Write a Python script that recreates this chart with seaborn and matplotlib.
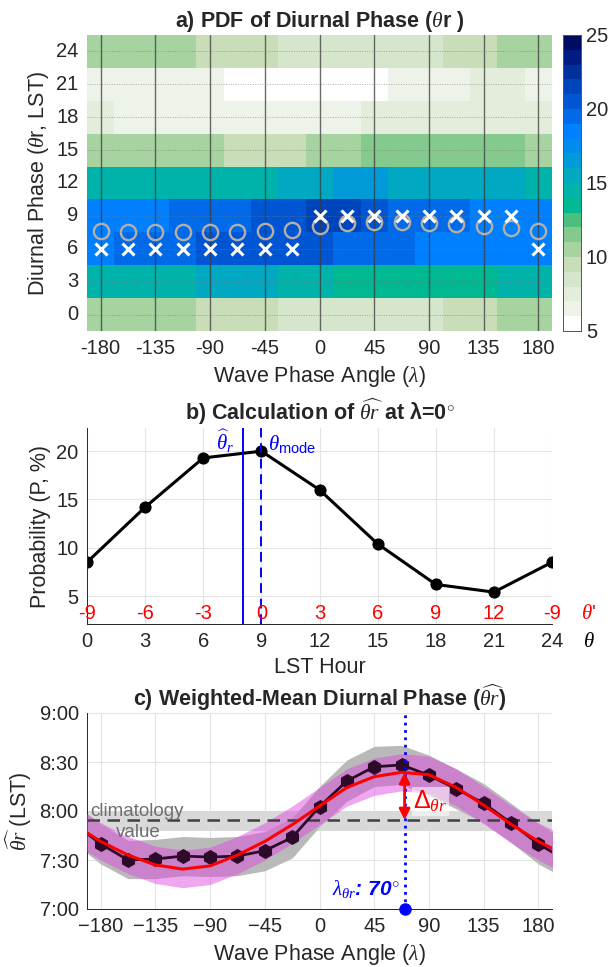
import numpy as np
import pandas as pd
import matplotlib
matplotlib.use('Agg')
import matplotlib.pyplot as plt
import matplotlib.transforms as mtransforms
from matplotlib.colors import ListedColormap
import seaborn as sns

# ---------------- DATA ----------------
# panel a: PDF of diurnal phase, rows = LST hour (top -> bottom), cols = wave phase
wave_phase = [-180, -157.5, -135, -112.5, -90, -67.5, -45, -22.5, 0,
              22.5, 45, 67.5, 90, 112.5, 135, 157.5, 180]
lst_hours = [24, 21, 18, 15, 12, 9, 6, 3, 0]
pdf_24 = [10.5, 10.5, 10.5, 10.5, 9.5, 9.5, 9.5, 8.5, 8.5, 8.5, 8.5, 8.5, 8.5, 9.5, 9.5, 10.5, 10.5]
pdf_21 = [6.5, 6.5, 6.5, 6.5, 6.5, 5.5, 5.5, 5.5, 5.5, 5.5, 5.5, 6.5, 6.5, 6.5, 7.5, 7.5, 6.5]
pdf_18 = [7.5, 6.5, 6.5, 6.5, 6.5, 6.5, 6.5, 6.5, 6.5, 6.5, 7.5, 7.5, 7.5, 7.5, 7.5, 7.5, 7.5]
pdf_15 = [10.5, 10.5, 10.5, 10.5, 10.5, 9.5, 9.5, 9.5, 10.5, 10.5, 11.5, 11.5, 11.5, 11.5, 11.5, 11.5, 10.5]
pdf_12 = [14.5, 14.5, 14.5, 14.5, 14.5, 14.5, 14.5, 15.5, 15.5, 16.5, 16.5, 15.5, 15.5, 15.5, 15.5, 15.5, 14.5]
pdf_09 = [18.5, 18.5, 18.5, 19.5, 19.5, 19.5, 20.5, 20.5, 21.5, 21.5, 20.5, 19.5, 19.5, 19.5, 18.5, 18.5, 18.5]
pdf_06 = [18.5, 19.5, 19.5, 19.5, 20.5, 20.5, 20.5, 20.5, 20.5, 19.5, 19.5, 19.5, 18.5, 18.5, 18.5, 18.5, 18.5]
pdf_03 = [14.5, 14.5, 14.5, 14.5, 15.5, 15.5, 15.5, 14.5, 14.5, 13.5, 13.5, 13.5, 13.5, 13.5, 13.5, 14.5, 14.5]
pdf_00 = [10.5, 10.5, 10.5, 10.5, 9.5, 9.5, 9.5, 8.5, 8.5, 8.5, 8.5, 8.5, 8.5, 9.5, 9.5, 10.5, 10.5]
mode_hour = [6, 6, 6, 6, 6, 6, 6, 6, 9, 9, 9, 9, 9, 9, 9, 9, 6]
phase_ticks = [-180, -135, -90, -45, 0, 45, 90, 135, 180]
cbar_ticks = [5, 10, 15, 20, 25]
pdf_colors = ['#ffffff', '#eef3ea', '#e4ecdc', '#d6e6cc', '#c9ddb8', '#a6d3a0',
              '#84c98e', '#4cbf80', '#00b892', '#00b3aa', '#00a8c2', '#009ad8',
              '#008cec', '#0080ff', '#006ae8', '#0056d2', '#0044bc', '#00309e',
              '#001c82', '#000c62']

# panel b: probability vs LST hour at lambda = 0
lst_b = [0, 3, 6, 9, 12, 15, 18, 21, 24]
prob_b = [8.5, 14.2, 19.3, 20.0, 16.0, 10.4, 6.2, 5.4, 8.5]
theta_prime = ['-9', '-6', '-3', '0', '3', '6', '9', '12', '-9']
prob_ticks = [5, 10, 15, 20]

# panel c: weighted-mean diurnal phase (hours) vs wave phase
theta_hat = [7.664, 7.50, 7.51, 7.54, 7.53, 7.54, 7.595, 7.73, 8.044,
             8.306, 8.451, 8.47, 8.365, 8.226, 8.078, 7.878, 7.664]
spread_lo = [7.46, 7.31, 7.31, 7.34, 7.33, 7.34, 7.39, 7.52, 7.84,
             8.10, 8.25, 8.27, 8.16, 8.02, 7.88, 7.68, 7.46]
spread_hi = [7.87, 7.70, 7.71, 7.74, 7.73, 7.74, 7.79, 7.93, 8.25,
             8.52, 8.66, 8.67, 8.57, 8.43, 8.28, 8.08, 7.87]
fit_c = [7.69, 7.55, 7.45, 7.407, 7.44, 7.55, 7.69, 7.86, 8.05,
         8.24, 8.35, 8.395, 8.37, 8.24, 8.06, 7.865, 7.69]
fit_lo = [7.50, 7.36, 7.26, 7.217, 7.25, 7.36, 7.50, 7.67, 7.86,
          8.05, 8.16, 8.205, 8.18, 8.05, 7.87, 7.675, 7.50]
fit_hi = [7.88, 7.74, 7.64, 7.60, 7.63, 7.74, 7.88, 8.05, 8.24,
          8.43, 8.54, 8.585, 8.56, 8.43, 8.25, 8.055, 7.88]
clim_value = 7.908
clim_lo, clim_hi = 7.80, 8.0
lam_peak = 70
hour_ticks = [7, 7.5, 8, 8.5, 9]
hour_labels = ['7:00', '7:30', '8:00', '8:30', '9:00']

# ---------------- STYLE ----------------
sns.set_theme(style='white')
plt.rcParams['font.family'] = ['Liberation Sans', 'DejaVu Sans']
plt.rcParams['mathtext.fontset'] = 'custom'
plt.rcParams['mathtext.rm'] = 'Liberation Sans'
plt.rcParams['mathtext.it'] = 'Liberation Serif:italic'
plt.rcParams['mathtext.bf'] = 'Liberation Sans:bold'
plt.rcParams['mathtext.sf'] = 'Liberation Sans'

TICK_FS = 14.5
LABEL_FS = 15.5
TITLE_FS = 15.5
INK = '#262626'

fig = plt.figure(figsize=(6.11, 9.67), dpi=100)
W, H = 611, 967
ax_a = fig.add_axes([87 / W, 1 - 331 / H, 465 / W, 296 / H])
cax = fig.add_axes([563 / W, 1 - 331 / H, 18 / W, 296 / H])
ax_b = fig.add_axes([87 / W, 1 - 624 / H, 465 / W, 196 / H])
ax_c = fig.add_axes([87 / W, 1 - 909 / H, 465 / W, 196 / H])

# ---------------- PANEL A ----------------
pdf = pd.DataFrame([pdf_24, pdf_21, pdf_18, pdf_15, pdf_12, pdf_09, pdf_06, pdf_03, pdf_00],
                   index=lst_hours, columns=wave_phase)
sns.heatmap(pdf, ax=ax_a, cmap=ListedColormap(pdf_colors), vmin=5, vmax=25,
            cbar_ax=cax, cbar_kws={'ticks': cbar_ticks})

step_x = wave_phase[1] - wave_phase[0]
step_y = lst_hours[0] - lst_hours[1]


def hx(lam):
    return (np.asarray(lam) - wave_phase[0]) / step_x + 0.5


def hy(hour):
    return (lst_hours[0] - np.asarray(hour)) / step_y + 0.5


ax_a.set_xticks(hx(phase_ticks))
ax_a.set_xticklabels(phase_ticks, rotation=0)
ax_a.set_yticks(hy(lst_hours))
ax_a.set_yticklabels(lst_hours, rotation=0)
for v in phase_ticks:
    ax_a.axvline(hx(v), color='#3a3a3a', lw=1.0, alpha=0.75)
for hr in lst_hours:
    ax_a.axhline(hy(hr), color='#7a7a7a', lw=0.7, ls=(0, (1, 1.5)), alpha=0.6)

ax_a.plot(hx(wave_phase), hy(theta_hat), 'o', mfc='none', mec='#b5afa8', ms=11, mew=1.7)
ax_a.plot(hx(wave_phase), hy(mode_hour), 'x', color='white', ms=9, mew=2.2)

ax_a.set_title('a) PDF of Diurnal Phase ($\\theta$r )', fontsize=TITLE_FS, fontweight='bold', pad=6)
ax_a.set_xlabel('Wave Phase Angle ($\\lambda$)', fontsize=LABEL_FS)
ax_a.set_ylabel('Diurnal Phase ($\\theta$r, LST)', fontsize=LABEL_FS)
ax_a.tick_params(labelsize=TICK_FS, length=0, pad=6)

cax.tick_params(labelsize=TICK_FS, direction='in', length=3, width=0.6, color=INK)
for s in cax.spines.values():
    s.set_visible(True)
    s.set_linewidth(0.6)
    s.set_color('#555555')

# ---------------- PANEL B ----------------
sns.lineplot(x=lst_b, y=prob_b, ax=ax_b, color='black', lw=2.2, marker='o', ms=8,
             mec='black', mfc='black')
ax_b.set_xlim(lst_b[0], lst_b[-1])
ax_b.set_ylim(2.1, 22.4)
ax_b.set_xticks(lst_b)
ax_b.set_yticks(prob_ticks)
ax_b.grid(True, color='#e4e4e4', lw=0.8)
ax_b.set_axisbelow(True)

theta_mode = lst_b[int(np.argmax(prob_b))]
theta_r0 = theta_hat[wave_phase.index(0)]
ax_b.axvline(theta_r0, color='blue', lw=1.4)
ax_b.axvline(theta_mode, color='blue', lw=1.4, ls=(0, (5, 3)))
ax_b.text(theta_r0 - 0.45, 21.0, '$\\widehat{\\theta}_r$', color='blue', fontsize=15,
          ha='right', va='center')
ax_b.text(theta_mode + 0.35, 20.7, '$\\theta_{\\mathrm{mode}}$', color='blue', fontsize=15,
          ha='left', va='center')

for xv, lab in zip(lst_b, theta_prime):
    ax_b.text(xv, 3.2, lab, color='red', fontsize=TICK_FS, ha='center', va='center')
ax_b.text(25.9, 3.2, "$\\theta$'", color='red', fontsize=15, ha='center', va='center')
trans_b = mtransforms.blended_transform_factory(ax_b.transData, ax_b.transAxes)
ax_b.text(25.9, -0.09, '$\\theta$', color='black', fontsize=15, ha='center', va='center',
          transform=trans_b)

ax_b.set_title('b) Calculation of $\\widehat{\\theta r}$ at \u03bb=0$^{\\circ}$',
               fontsize=TITLE_FS, fontweight='bold', pad=6)
ax_b.set_xlabel('LST Hour', fontsize=LABEL_FS)
ax_b.set_ylabel('Probability (P, %)', fontsize=LABEL_FS)

# ---------------- PANEL C ----------------
# periodic wrap so the curves run to the axis edges
lam_ext = np.concatenate([[wave_phase[-2] - 360], wave_phase, [wave_phase[1] + 360]])


def wrap(vals):
    return np.concatenate([[vals[-2]], vals, [vals[1]]])


ax_c.axhspan(clim_lo, clim_hi, color='#d9d9d9', lw=0, zorder=1)
ax_c.fill_between(lam_ext, wrap(spread_lo), wrap(spread_hi), color='#b9b9b9', lw=0, zorder=2)
ax_c.fill_between(lam_ext, wrap(fit_lo), wrap(fit_hi), color='#df46df', alpha=0.47, lw=0, zorder=3)
ax_c.axhline(clim_value, color='#404040', ls=(0, (5, 3)), lw=1.8, zorder=4)
sns.lineplot(x=lam_ext, y=wrap(theta_hat), ax=ax_c, color='#2e0a2a', lw=2, marker='h',
             ms=10, mec='#2e0a2a', mfc='#2e0a2a', zorder=5)
sns.lineplot(x=lam_ext, y=wrap(fit_c), ax=ax_c, color='red', lw=2.2, zorder=6)

ax_c.axvline(lam_peak, color='blue', ls=':', lw=2, zorder=7)
ax_c.plot(lam_peak, hour_ticks[0], 'o', color='blue', ms=8, clip_on=False, zorder=10)
ax_c.annotate('', xy=(lam_peak, max(fit_c)), xytext=(lam_peak, clim_value),
              arrowprops=dict(arrowstyle='<|-|>', color='red', lw=2, mutation_scale=16,
                              shrinkA=0, shrinkB=0), zorder=8)
ax_c.text(lam_peak + 7, 8.1, '$\\Delta_{\\theta r}$', color='red', fontsize=18,
          ha='left', va='center', zorder=9,
          bbox=dict(fc='white', ec='none', alpha=0.55, pad=1))
ax_c.text(lam_peak - 4, 7.2, '$\\lambda_{\\theta r}$: 70$^{\\circ}$', color='blue', fontsize=15,
          fontweight='bold', style='italic', ha='right', va='center', zorder=9)
ax_c.text(-150, 7.99, 'climatology', color='#6e6e6e', fontsize=13.5, ha='center', va='center', zorder=9)
ax_c.text(-149, 7.78, 'value', color='#6e6e6e', fontsize=13.5, ha='center', va='center', zorder=9)

ax_c.set_xlim(-191.25, 191.25)
ax_c.set_ylim(hour_ticks[0], hour_ticks[-1])
ax_c.set_xticks(phase_ticks)
ax_c.set_yticks(hour_ticks)
ax_c.set_yticklabels(hour_labels)
ax_c.grid(True, color='#e4e4e4', lw=0.8)
ax_c.set_axisbelow(True)
ax_c.set_title('c) Weighted-Mean Diurnal Phase ($\\widehat{\\theta r}$)',
               fontsize=TITLE_FS, fontweight='bold', pad=5)
ax_c.set_xlabel('Wave Phase Angle ($\\lambda$)', fontsize=LABEL_FS)
ax_c.set_ylabel('$\\widehat{\\theta r}$ (LST)', fontsize=LABEL_FS)

for ax in (ax_b, ax_c):
    ax.tick_params(labelsize=TICK_FS, direction='in', length=3, width=0.6, color=INK, pad=6)
    for side in ('top', 'right'):
        ax.spines[side].set_visible(False)
    for side in ('left', 'bottom'):
        ax.spines[side].set_linewidth(0.7)
        ax.spines[side].set_color(INK)

fig.savefig('out.png', dpi=100)
